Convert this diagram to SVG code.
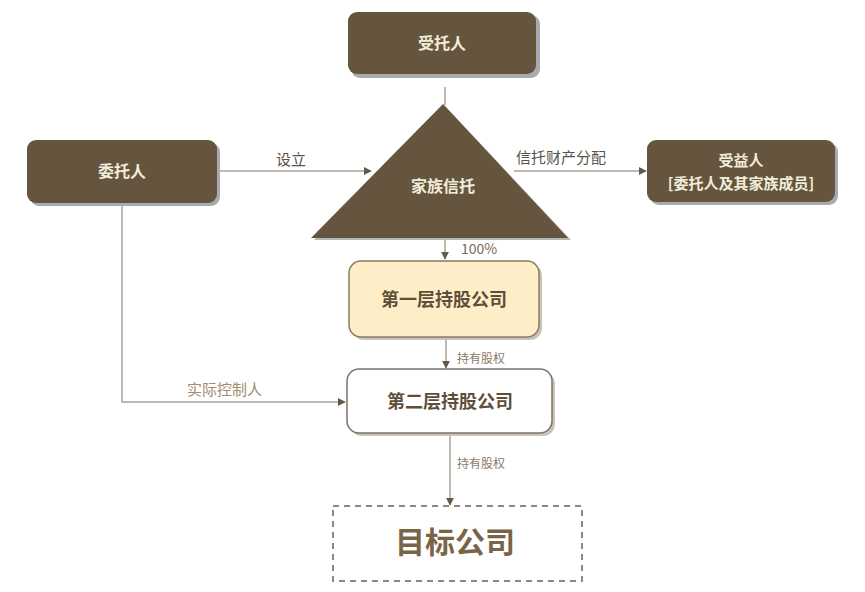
<svg xmlns="http://www.w3.org/2000/svg" width="865" height="592" viewBox="0 0 865 592">
<style>
.dark{fill:#65553f;}
.sh{fill:#a9aab0;}
.nt{font-family:"Noto Sans CJK SC","Liberation Sans",sans-serif;font-weight:bold;fill:#f2ecdc;text-anchor:middle;}
.bt{font-family:"Noto Sans CJK SC","Liberation Sans",sans-serif;font-weight:bold;fill:#5e4e3a;text-anchor:middle;}
.lbl{font-family:"Noto Sans CJK SC","Liberation Sans",sans-serif;fill:#5a534a;font-size:15px;}
.lbl2{font-family:"Noto Sans CJK SC","Liberation Sans",sans-serif;fill:#8a7a66;font-size:12px;}
.ln{stroke:#aaa39a;stroke-width:1.5;fill:none;}
</style>
<defs>
<marker id="ah" viewBox="0 0 10 10" refX="9" refY="5" markerWidth="8" markerHeight="8" orient="auto" markerUnits="userSpaceOnUse">
<path d="M0,0 L10,5 L0,10 z" fill="#65574a"/>
</marker>
</defs>
<rect width="865" height="592" fill="#ffffff"/>
<g id="connectors">
<line class="ln" x1="445" y1="87" x2="445" y2="105"/>
<line class="ln" x1="217" y1="171" x2="371" y2="171" marker-end="url(#ah)"/>
<line class="ln" x1="514" y1="171" x2="646" y2="171" marker-end="url(#ah)"/>
<line class="ln" x1="445" y1="238" x2="445" y2="259" marker-end="url(#ah)"/>
<line class="ln" x1="446" y1="337" x2="446" y2="368" marker-end="url(#ah)"/>
<line class="ln" x1="450" y1="433" x2="450" y2="505" marker-end="url(#ah)"/>
<polyline class="ln" points="122,203 122,402 345,402" marker-end="url(#ah)"/>
<text class="lbl" x="276" y="165">设立</text>
<text class="lbl" x="516" y="163">信托财产分配</text>
<text class="lbl" x="461" y="254" style="fill:#7a6a58;font-size:14px">100%</text>
<text class="lbl2" x="457" y="363">持有股权</text>
<text class="lbl2" x="457" y="468">持有股权</text>
<text class="lbl" x="187" y="395" style="fill:#a38c70">实际控制人</text>
</g>
<g id="trustee">
<rect class="sh" x="351" y="15" width="189" height="63" rx="9"/>
<rect class="dark" x="348" y="12" width="188" height="62" rx="9"/>
<text class="nt" x="442" y="49" font-size="16">受托人</text>
</g>
<g id="settlor">
<rect class="sh" x="30" y="143" width="190" height="63" rx="9"/>
<rect class="dark" x="27" y="140" width="190" height="63" rx="9"/>
<text class="nt" x="122" y="177" font-size="16">委托人</text>
</g>
<g id="beneficiary">
<rect class="sh" x="650" y="143" width="188" height="62" rx="9"/>
<rect class="dark" x="647" y="140" width="188" height="62" rx="9"/>
<text class="nt" x="741" y="166" font-size="15">受益人</text>
<text class="nt" x="741" y="189" font-size="15">[委托人及其家族成员]</text>
</g>
<g id="trust">
<polygon points="445,106 571,240 314,240" fill="#b5b6ba"/>
<polygon points="443,104 568,238 311,238" class="dark"/>
<text class="nt" x="443" y="192" font-size="16">家族信托</text>
</g>
<g id="layer1">
<rect x="352" y="264" width="190" height="76" rx="12" fill="#c8c4bc"/>
<rect x="349" y="261" width="190" height="76" rx="12" fill="#fdeec8" stroke="#8a7b62" stroke-width="1.5"/>
<text class="bt" x="444" y="306" font-size="18">第一层持股公司</text>
</g>
<g id="layer2">
<rect x="350" y="372" width="205" height="64" rx="12" fill="#c8c4bc"/>
<rect x="347" y="369" width="205" height="64" rx="12" fill="#ffffff" stroke="#7d7266" stroke-width="1.5"/>
<text class="bt" x="450" y="408" font-size="18">第二层持股公司</text>
</g>
<g id="target">
<rect x="333" y="506" width="249" height="75" fill="none" stroke="#6b6258" stroke-width="1.5" stroke-dasharray="6,5"/>
<text class="bt" x="455" y="553" font-size="30" style="fill:#7a6447">目标公司</text>
</g>
</svg>
